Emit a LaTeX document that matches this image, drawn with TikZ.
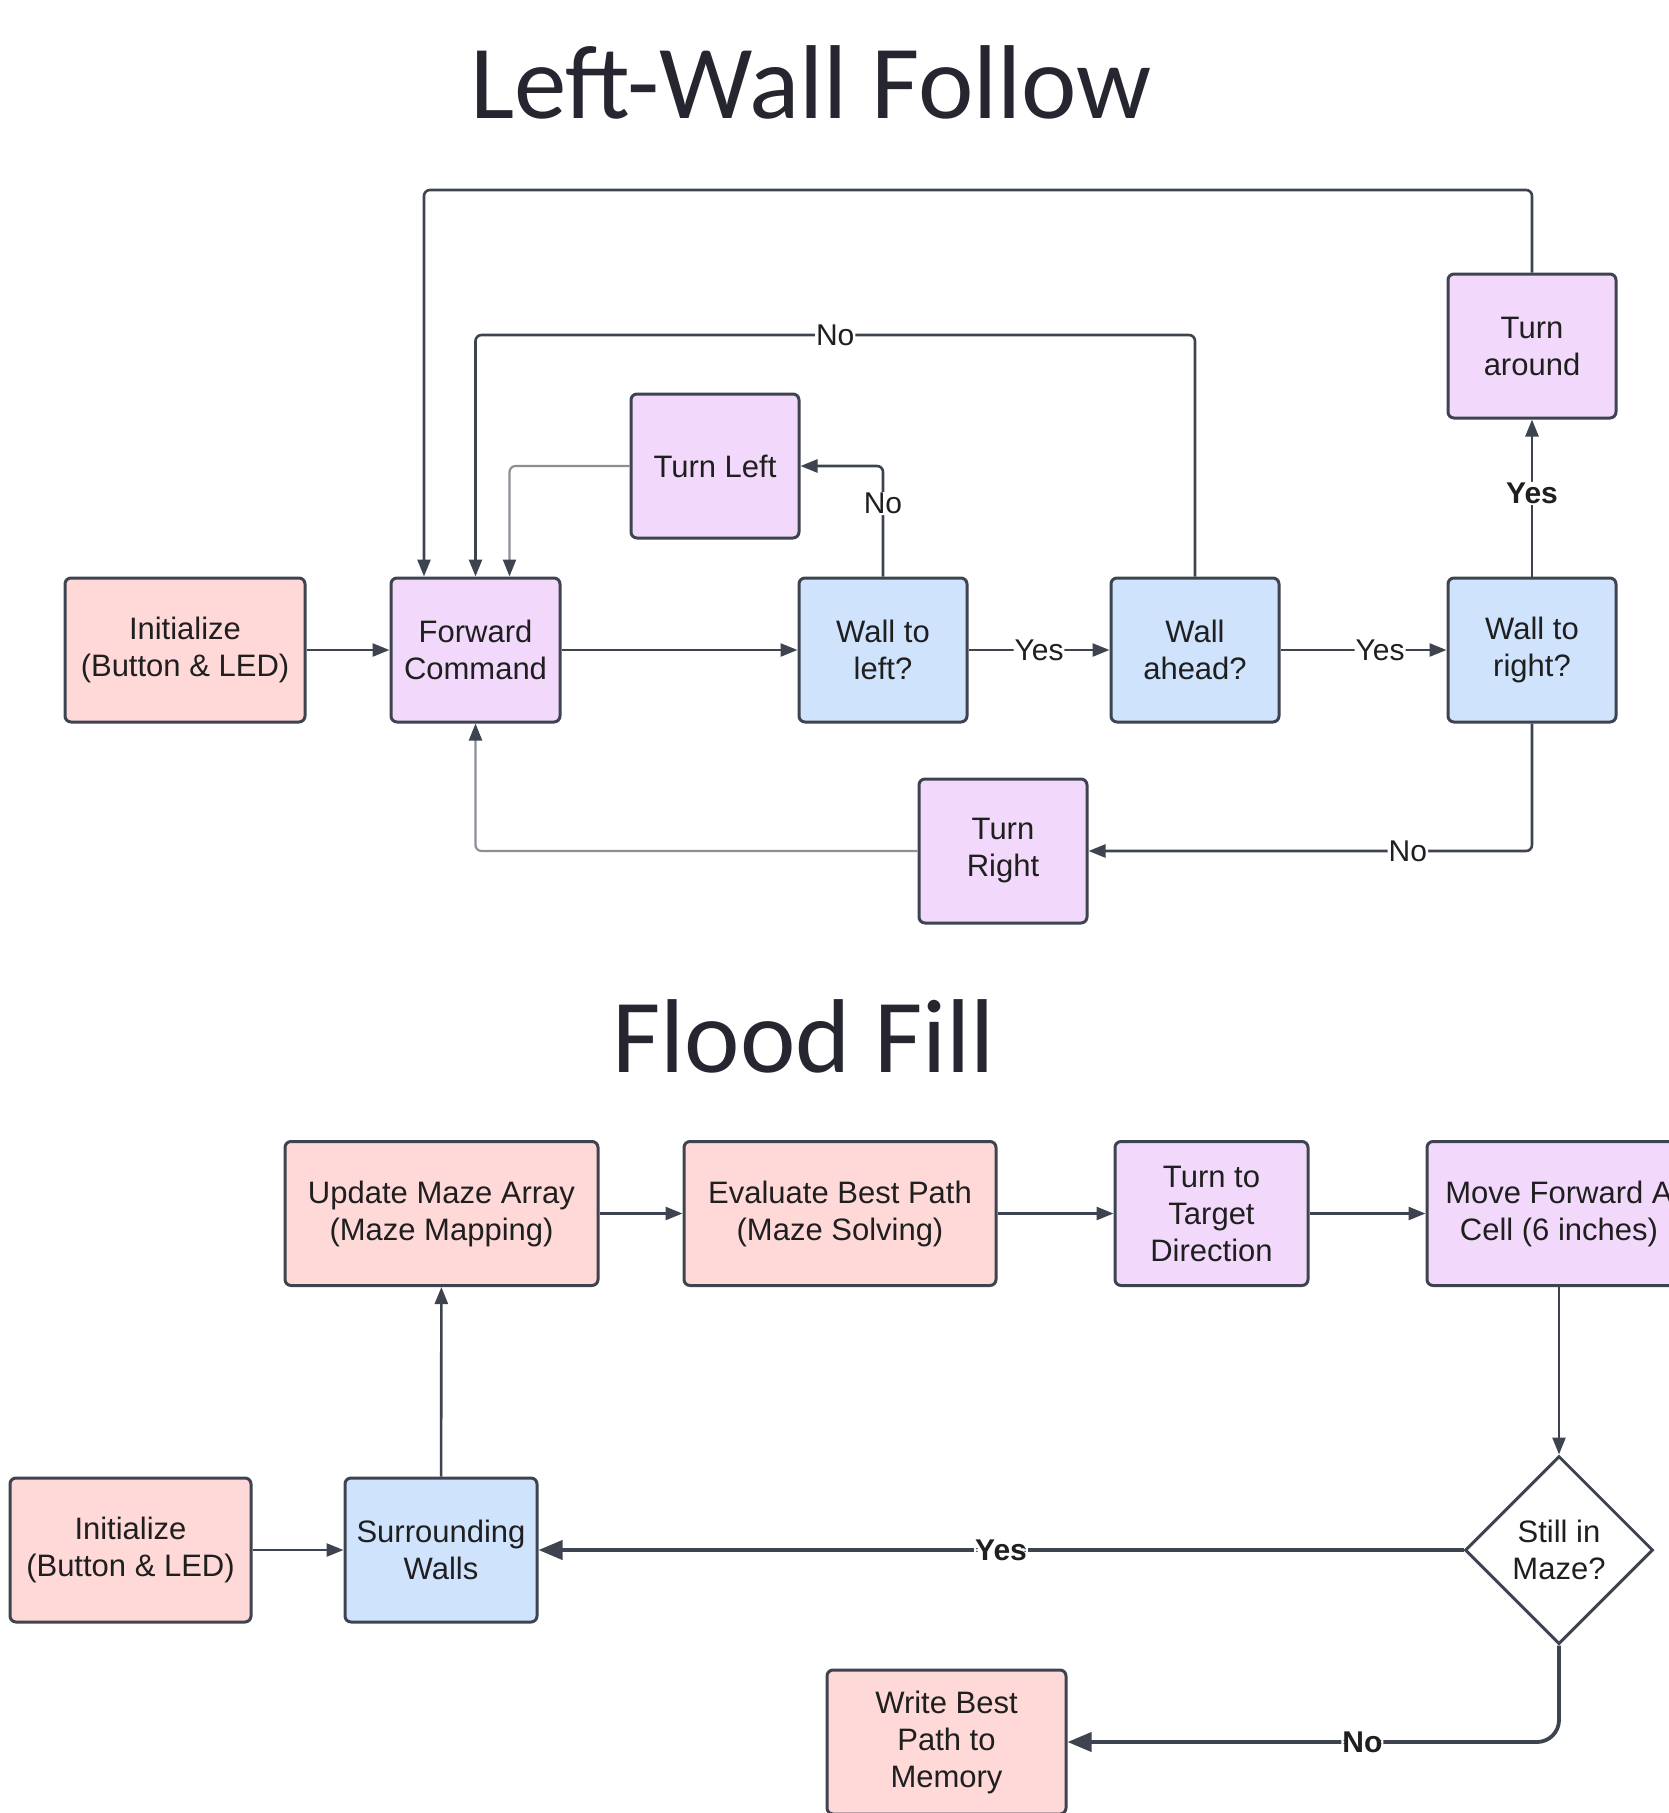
\documentclass[tikz,border=0pt]{standalone}
\usepackage{fontspec}
\setmainfont{Liberation Sans}
\newfontfamily\titlefont{Carlito}
\usetikzlibrary{arrows.meta,shapes.geometric}
\definecolor{ln}{HTML}{3D4450}
\definecolor{pinkf}{HTML}{FFD8D8}
\definecolor{purpf}{HTML}{F2D9FB}
\definecolor{bluef}{HTML}{CFE3FD}
\definecolor{grayl}{HTML}{8C9096}
\definecolor{titlec}{HTML}{262630}
\begin{document}
\begin{tikzpicture}[x=1pt,y=-1pt,
  box/.style={draw=ln, line width=3pt, rounded corners=6pt, align=center,
    font=\fontsize{31}{37}\selectfont, inner sep=0pt, text=black!88},
  pinkbox/.style={box, fill=pinkf},
  purpbox/.style={box, fill=purpf},
  bluebox/.style={box, fill=bluef},
  dia/.style={draw=ln, line width=3pt, shape=diamond, aspect=1, fill=white,
    align=center, font=\fontsize{31}{37}\selectfont, inner sep=0pt,
    minimum width=188pt, minimum height=188pt, text=black!88},
  arr/.style={draw=ln, line width=2.6pt, rounded corners=6pt,
    -{Triangle[length=17pt,width=13pt]}},
  garr/.style={draw=grayl, line width=2.2pt, rounded corners=6pt,
    -{Triangle[length=17pt,width=13pt,color=ln]}},
  barr/.style={draw=ln, line width=3.8pt, rounded corners=22pt,
    -{Triangle[length=24pt,width=19pt]}},
  lbl/.style={fill=white, inner sep=1pt, font=\fontsize{30}{34}\selectfont, text=black!88},
  blbl/.style={lbl, font=\fontsize{30}{34}\selectfont\bfseries},
  ttl/.style={font=\titlefont\fontsize{105}{110}\selectfont, text=titlec, anchor=base}
]
\useasboundingbox (0,0) rectangle (1669,1813);
\clip (0,0) rectangle (1669,1813);

% titles
\node[ttl] (t1) at (811,118) {Left-Wall Follow};
\node[ttl] (t2) at (804,1072) {Flood Fill};

% ---------- Left-wall follow ----------
\node[pinkbox, minimum width=240pt, minimum height=144pt] (init1) at (185,650) {Initialize\\(Button \& LED)};
\node[purpbox, minimum width=169pt, minimum height=144pt] (fwd) at (475.5,650) {Forward\\Command};
\node[bluebox, minimum width=168pt, minimum height=144pt] (wl) at (883,650) {Wall to\\left?};
\node[bluebox, minimum width=168pt, minimum height=144pt] (wa) at (1195,650) {Wall\\ahead?};
\node[bluebox, minimum width=168pt, minimum height=144pt] (wr) at (1532,650) {Wall to\\right?};
\node[purpbox, minimum width=168pt, minimum height=144pt] (tl) at (715,466) {Turn Left};
\node[purpbox, minimum width=168pt, minimum height=144pt] (ta) at (1532,346) {Turn\\around};
\node[purpbox, minimum width=168pt, minimum height=144pt] (tr) at (1003,851) {Turn\\Right};

\coordinate (topL) at (424,190);
\coordinate (noL) at (475.5,335);

\draw[arr] (init1) -- (fwd);
\draw[arr] (fwd) -- (wl);
\draw[arr] (wl) -- node[lbl]{Yes} (wa);
\draw[arr] (wa) -- node[lbl, pos=0.6]{Yes} (wr);
\draw[arr] (wr) -- node[blbl, pos=0.53]{Yes} (ta);
\draw[arr] (wl.north) |- node[lbl, pos=0.33]{No} (tl.east);
\draw[arr] (ta.north) |- (topL) -- (fwd.north -| topL);
\draw[arr] (wa.north) |- node[lbl, pos=0.75]{No} (noL) -- (fwd.north);
\draw[garr] (tl.west) -| ([xshift=34pt]fwd.north);
\draw[arr] (wr.south) |- node[lbl, pos=0.64]{No} (tr.east);
\draw[garr] (tr.west) -| (fwd.south);

% ---------- Flood fill ----------
\node[pinkbox, minimum width=313pt, minimum height=144pt] (upd) at (441.5,1213.5) {Update Maze Array\\(Maze Mapping)};
\node[pinkbox, minimum width=312pt, minimum height=144pt] (eva) at (840,1213.5) {Evaluate Best Path\\(Maze Solving)};
\node[purpbox, minimum width=193pt, minimum height=144pt] (ttd) at (1211.5,1213.5) {Turn to\\Target\\Direction};
\node[purpbox, minimum width=264pt, minimum height=144pt] (mfw) at (1559,1213.5) {Move Forward A\\Cell (6 inches)};
\node[pinkbox, minimum width=241pt, minimum height=144pt] (init2) at (130.5,1550) {Initialize\\(Button \& LED)};
\node[bluebox, minimum width=192pt, minimum height=144pt] (sw) at (441,1550) {Surrounding\\Walls};
\node[dia] (still) at (1559,1550) {Still in\\Maze?};
\node[pinkbox, minimum width=239pt, minimum height=144pt] (wbp) at (946.5,1742) {Write Best\\Path to\\Memory};

\draw[arr] (init2) -- (sw);
\draw[arr] (sw) -- (upd);
\draw[arr] (upd) -- (eva);
\draw[arr] (eva) -- (ttd);
\draw[arr] (ttd) -- (mfw);
\draw[arr] (mfw) -- (still);
\draw[barr] (still.west) -- node[blbl]{Yes} (sw.east);
\draw[barr] (still.south) |- node[blbl, pos=0.70]{No} (wbp.east);
\end{tikzpicture}
\end{document}
